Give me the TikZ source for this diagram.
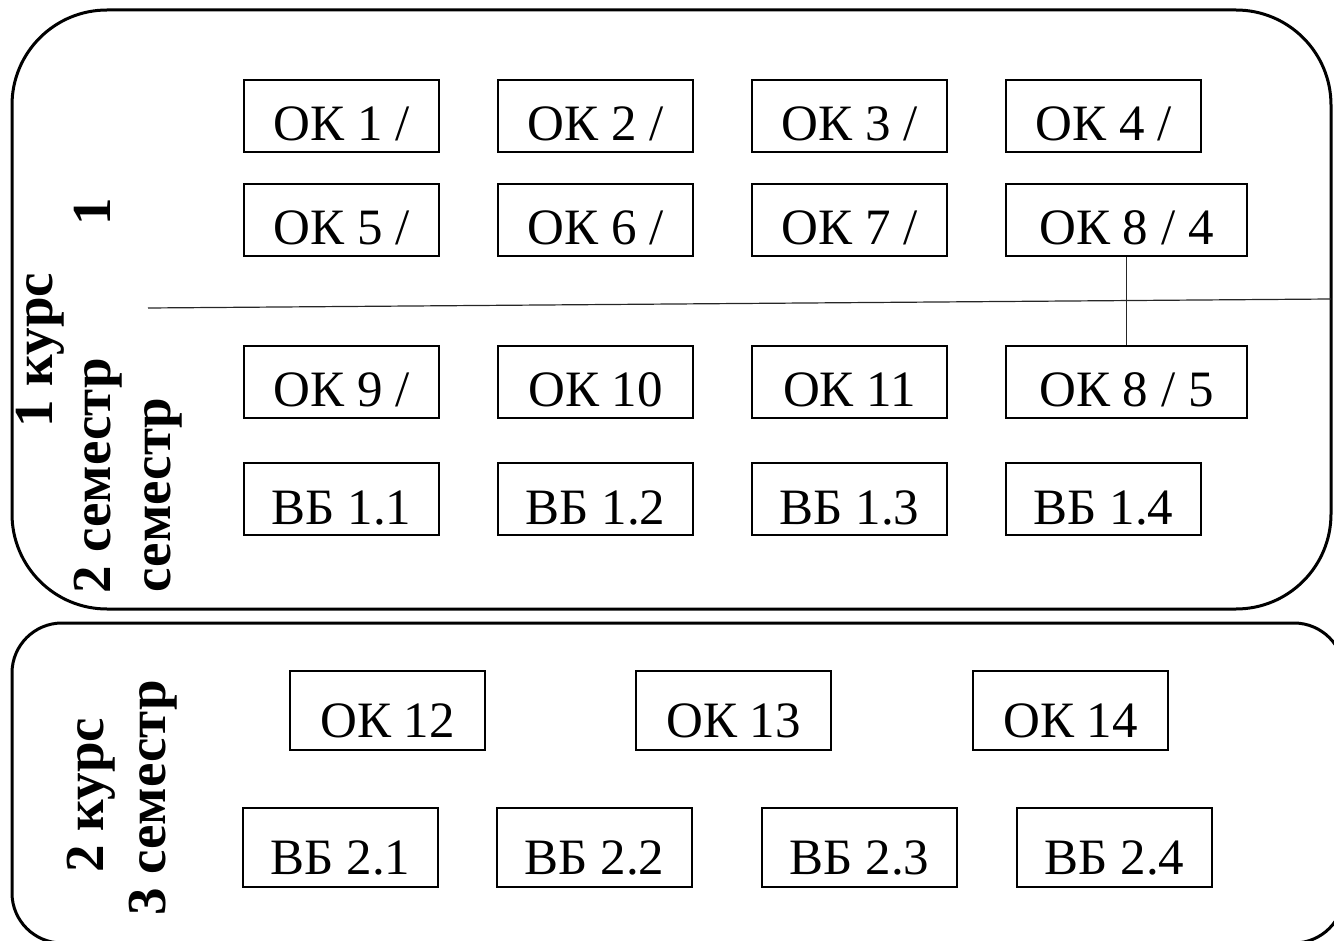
\documentclass[tikz,border=0pt]{standalone}
\usepackage{fontspec}
\setmainfont{Liberation Serif}
\usetikzlibrary{positioning}
\tikzset{
  discbox/.style={rectangle,draw=black,line width=1pt,align=center,
    font=\fontsize{25.5}{30}\selectfont,minimum width=97.5pt,
    text height=30.5pt,text depth=5.5pt,inner xsep=2pt,inner ysep=0pt},
  widebox/.style={discbox,minimum width=120.5pt},
  tallbox/.style={discbox,text height=33pt,text depth=6.5pt},
  yearframe/.style={draw=black,line width=1.5pt},
  termlabel/.style={font=\bfseries\fontsize{27.5}{31}\selectfont,
    rotate=90,anchor=base,inner sep=0pt},
  thinline/.style={line width=0.6pt,color=black!85},
}
\begin{document}
\begin{tikzpicture}[x=0.5pt,y=-0.5pt,node distance=16pt and 28.5pt]
  \useasboundingbox (0,0) rectangle (1334,941);
  \clip (0,0) rectangle (1334,941);
  % year frames
  \draw[yearframe,rounded corners=47.5pt] (12,10) rectangle (1331,609);
  \draw[yearframe,rounded corners=25pt] (12,623) rectangle (1344,943);

  % 1 course, first term
  \node[discbox,anchor=north west] (ok1) at (243,79) {ОК 1 /};
  \node[discbox,right=of ok1] (ok2) {ОК 2 /};
  \node[discbox,right=of ok2] (ok3) {ОК 3 /};
  \node[discbox,right=of ok3] (ok4) {ОК 4 /};
  \node[discbox,anchor=north west] (ok5) at (243,183) {ОК 5 /};
  \node[discbox,right=of ok5] (ok6) {ОК 6 /};
  \node[discbox,right=of ok6] (ok7) {ОК 7 /};
  \node[widebox,right=of ok7] (okeightfour) {ОК 8 / 4};

  % 1 course, second term
  \node[discbox,anchor=north west] (ok9) at (243,345) {ОК 9 /};
  \node[discbox,right=of ok9] (ok10) {ОК 10};
  \node[discbox,right=of ok10] (ok11) {ОК 11};
  \node[widebox,right=of ok11] (okeightfive) {ОК 8 / 5};
  \node[discbox,anchor=north west] (vb11) at (243,462) {ВБ 1.1};
  \node[discbox,right=of vb11] (vb12) {ВБ 1.2};
  \node[discbox,right=of vb12] (vb13) {ВБ 1.3};
  \node[discbox,right=of vb13] (vb14) {ВБ 1.4};

  % 2 course, third term
  \node[tallbox,anchor=north west] (ok12) at (289,670) {ОК 12};
  \node[tallbox,right=74.5pt of ok12] (ok13) {ОК 13};
  \node[tallbox,right=70pt of ok13] (ok14) {ОК 14};
  \node[tallbox,anchor=north west] (vb21) at (242,807) {ВБ 2.1};
  \node[tallbox,right=of vb21] (vb22) {ВБ 2.2};
  \node[tallbox,right=34pt of vb22] (vb23) {ВБ 2.3};
  \node[tallbox,right=29pt of vb23] (vb24) {ВБ 2.4};

  % term split and the two-term course
  \coordinate (splitL) at (148,308);
  \coordinate (splitR) at (1331,299);
  \draw[thinline] (splitL) -- (splitR);
  \draw[thinline] (okeightfour.south) -- (okeightfive.north);

  % side labels
  \node[termlabel] (kurs1) at (53,350) {1 курс};
  \node[termlabel] (semone) at (110,212) {1};
  \node[termlabel] (semtwo) at (110,476) {2 семестр};
  \node[termlabel] (semword) at (170,495) {семестр};
  \node[termlabel] (kurs2) at (103,795) {2 курс};
  \node[termlabel] (semthree) at (165,798) {3 семестр};
\end{tikzpicture}
\end{document}
